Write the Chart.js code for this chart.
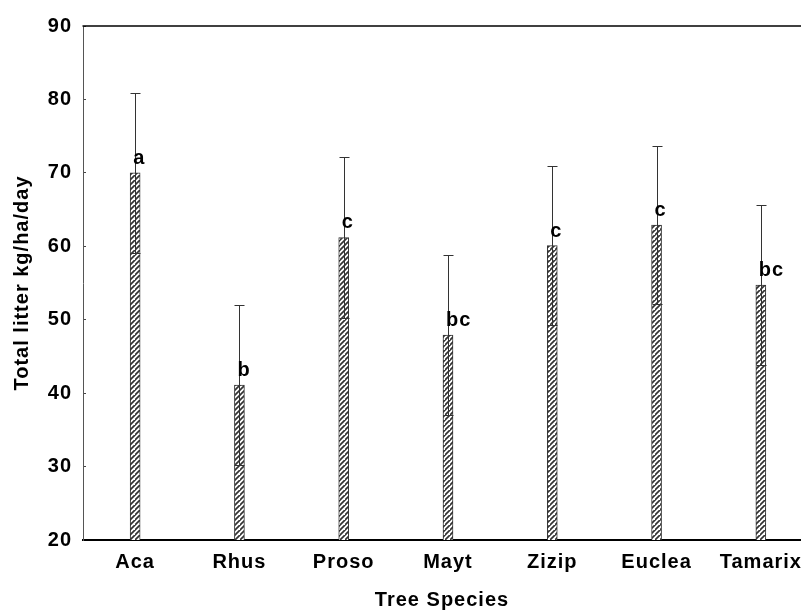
<!DOCTYPE html>
<html>
<head>
<meta charset="utf-8">
<script src="https://cdn.jsdelivr.net/npm/chart.js@4.4.1/dist/chart.umd.min.js"></script>
<style>
  html, body { margin: 0; padding: 0; background: #fff; overflow: hidden; }
  #c { display: block; }
</style>
</head>
<body>
<canvas id="c" width="801" height="613"></canvas>
<script>
// Litter fall per tree species: means, standard errors and group letters
const species = ['Aca', 'Rhus', 'Proso', 'Mayt', 'Zizip', 'Euclea', 'Tamarix'];
const meanLitter = [70.0, 41.1, 61.2, 47.9, 60.1, 62.9, 54.7];
const stdError = [10.9, 10.9, 10.9, 10.9, 10.8, 10.8, 10.9];
const groupLetters = ['a', 'b', 'c', 'bc', 'c', 'c', 'bc'];
const yTicks = [20, 30, 40, 50, 60, 70, 80, 90];

const FONT = "'Liberation Sans', Arial, Helvetica, sans-serif";

// diagonal hatch fill for the bars
function hatchPattern() {
  const size = 5;
  const p = document.createElement('canvas');
  p.width = size; p.height = size;
  const g = p.getContext('2d');
  g.fillStyle = '#ffffff';
  g.fillRect(0, 0, size, size);
  g.strokeStyle = '#333333';
  g.lineWidth = 1.7;
  g.beginPath();
  g.moveTo(-1, size + 1); g.lineTo(size + 1, -1);
  g.moveTo(-1 - size, size + 1); g.lineTo(1, -1);
  g.moveTo(size - 1, 2 * size + 1); g.lineTo(2 * size + 1, size - 1);
  g.stroke();
  return g.createPattern(p, 'repeat');
}

const ctx = document.getElementById('c').getContext('2d');

// slightly spaced lettering for all chart text
const spacing = {
  id: 'spacing',
  beforeDraw(chart) { chart.ctx.letterSpacing = '1px'; },
  afterDatasetsDraw(chart) { chart.ctx.letterSpacing = '2px'; },
  afterDraw(chart) { chart.ctx.letterSpacing = '0px'; }
};

// error bars (mean ± SE) drawn through the chart scales
const errorBars = {
  id: 'errorBars',
  afterDatasetsDraw(chart) {
    const { ctx } = chart;
    const xs = chart.scales.x, ys = chart.scales.y;
    const meta = chart.getDatasetMeta(0);
    ctx.save();
    ctx.strokeStyle = '#333';
    ctx.lineWidth = 1;
    meanLitter.forEach((m, i) => {
      const bar = meta.data[i];
      const x = Math.round(xs.getPixelForValue(i + 1)) + 0.5;
      const yHi = Math.round(ys.getPixelForValue(m + stdError[i])) + 0.5;
      const yLo = Math.round(ys.getPixelForValue(m - stdError[i])) + 0.5;
      const half = bar.width / 2;
      ctx.beginPath();
      ctx.moveTo(x, yHi); ctx.lineTo(x, yLo);
      ctx.moveTo(x - half, yHi); ctx.lineTo(x + half, yHi);
      ctx.moveTo(x - half, yLo); ctx.lineTo(x + half, yLo);
      ctx.stroke();
    });
    ctx.restore();
  }
};

// significance letters above each bar, plus the top frame line
const letters = {
  id: 'letters',
  afterDraw(chart) {
    const { ctx, chartArea } = chart;
    const xs = chart.scales.x, ys = chart.scales.y;
    ctx.save();
    ctx.letterSpacing = '1px';
    ctx.fillStyle = '#000';
    ctx.font = 'bold 20px ' + FONT;
    ctx.textAlign = 'left';
    ctx.textBaseline = 'alphabetic';
    meanLitter.forEach((m, i) => {
      const x = xs.getPixelForValue(i + 1) - 2;
      const y = ys.getPixelForValue(m) - 9;
      ctx.fillText(groupLetters[i], x, y);
    });
    ctx.strokeStyle = '#000';
    ctx.lineWidth = 1.5;
    ctx.beginPath();
    ctx.moveTo(chartArea.left - 0.5, chartArea.top);
    ctx.lineTo(chartArea.right, chartArea.top);
    ctx.stroke();
    ctx.restore();
  }
};

new Chart(ctx, {
  type: 'bar',
  data: {
    datasets: [{
      data: meanLitter.map((v, i) => ({ x: i + 1, y: v })),
      backgroundColor: hatchPattern(),
      borderColor: '#333',
      borderWidth: 1,
      borderSkipped: 'bottom',
      barThickness: 10
    }]
  },
  options: {
    responsive: false,
    animation: false,
    devicePixelRatio: 1,
    layout: { padding: { left: 0, right: 0, top: 24, bottom: 0 } },
    plugins: { legend: { display: false }, tooltip: { enabled: false } },
    scales: {
      x: {
        type: 'linear',
        position: 'bottom',
        offset: false,
        min: 0.5,
        max: 7.385,
        afterBuildTicks(scale) {
          scale.ticks = species.map((s, i) => ({ value: i + 1 }));
        },
        afterFit(scale) {
          scale.height = 73;
          scale.paddingLeft = 0;
          scale.paddingRight = 0;
        },
        grid: { display: false, drawTicks: false },
        border: { display: true, color: '#000', width: 2 },
        ticks: {
          padding: 10,
          color: '#000',
          font: { family: FONT, size: 20, weight: 'bold' },
          maxRotation: 0,
          autoSkip: false,
          callback: (v) => species[v - 1] || ''
        },
        title: {
          display: true,
          text: 'Tree Species',
          color: '#000',
          font: { family: FONT, size: 20, weight: 'bold' },
          padding: { top: 0, bottom: 1 }
        }
      },
      y: {
        z: 1,
        min: 20,
        max: 90,
        afterBuildTicks(scale) {
          scale.ticks = yTicks.map(v => ({ value: v }));
        },
        afterFit(scale) { scale.width = 83; },
        grid: { display: true, drawOnChartArea: false, drawTicks: true, tickLength: -3, color: '#444' },
        border: { display: true, color: '#555', width: 1 },
        ticks: {
          padding: 14,
          color: '#000',
          font: { family: FONT, size: 20, weight: 'bold' }
        },
        title: {
          display: true,
          text: 'Total litter kg/ha/day',
          color: '#000',
          font: { family: FONT, size: 20, weight: 'bold' },
          padding: { top: 10, bottom: 0 }
        }
      }
    }
  },
  plugins: [spacing, errorBars, letters]
});
</script>
</body>
</html>
